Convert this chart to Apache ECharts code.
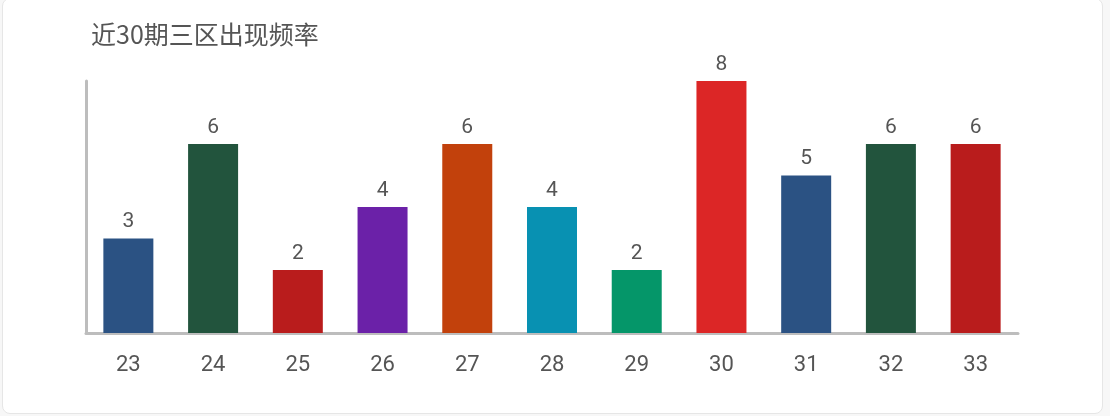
<!DOCTYPE html>
<html>
<head>
<meta charset="utf-8">
<script src="https://cdn.jsdelivr.net/npm/echarts@6/dist/echarts.min.js"></script>
<style>
  html, body { margin: 0; padding: 0; background: #f7f7f7; }
  #card { position: absolute; left: 2px; top: -2px; width: 1101px; height: 416px; background: #fff; border: 1px solid #e6e6e6; border-radius: 8px; box-sizing: border-box; }
  #chart { position: absolute; left: 0; top: 0; width: 1110px; height: 416px; }
</style>
</head>
<body>
<div id="card"></div>
<div id="chart"></div>
<script>
const title = '近30期三区出现频率';
const categories = ['23', '24', '25', '26', '27', '28', '29', '30', '31', '32', '33'];
const values = [3, 6, 2, 4, 6, 4, 2, 8, 5, 6, 6];
const palette = ['#2b5283', '#22543d', '#b91c1c', '#6b21a8', '#c2410c', '#0891b2', '#059669', '#dc2626'];

const chart = echarts.init(document.getElementById('chart'));
chart.setOption({
  backgroundColor: 'transparent',
  animation: false,
  title: {
    text: title,
    left: 86,
    top: 17,
    textStyle: { fontSize: 25, fontWeight: 'normal', color: '#555', fontFamily: '"Noto Sans CJK SC", sans-serif' }
  },
  grid: { left: 86, right: 92, top: 81, bottom: 83, containLabel: false },
  xAxis: {
    type: 'category',
    data: categories,
    axisLine: { lineStyle: { color: '#bdbdbd', width: 3 } },
    axisTick: { show: false },
    axisLabel: { color: '#555', fontSize: 22, margin: 21, fontFamily: 'Roboto, sans-serif' }
  },
  yAxis: {
    type: 'value',
    min: 0,
    max: 8,
    axisLine: { show: true, lineStyle: { color: '#bdbdbd', width: 3 } },
    axisTick: { show: false },
    axisLabel: { show: false },
    splitLine: { show: false }
  },
  series: [{
    type: 'bar',
    barWidth: 50,
    data: values.map((v, i) => ({ value: v, itemStyle: { color: palette[i % palette.length] } })),
    label: { show: true, position: 'top', distance: 6, color: '#555', fontSize: 21, fontFamily: 'Roboto, sans-serif' }
  }]
});
</script>
</body>
</html>
